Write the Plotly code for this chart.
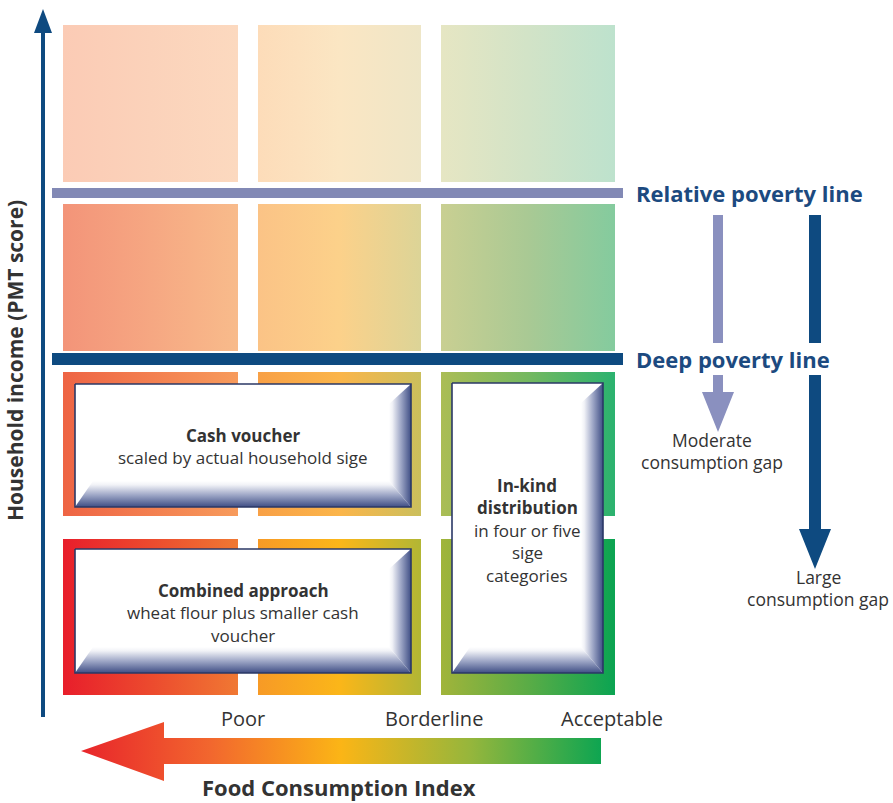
import plotly.graph_objects as go

# ---- data -------------------------------------------------------------
fci_categories = ["Poor", "Borderline", "Acceptable"]
poverty_lines = ["Relative poverty line", "Deep poverty line"]
gap_labels = [["Moderate", "consumption gap"], ["Large", "consumption gap"]]
intervention_titles = [["Cash voucher"], ["Combined approach"], ["In-kind", "distribution"]]
intervention_details = [
    ["scaled by actual household sige"],
    ["wheat flour plus smaller cash", "voucher"],
    ["in four or five", "sige", "categories"],
]
y_title = "Household income (PMT score)"
x_title = "Food Consumption Index"

# ---- style / geometry (pixels of the 893x803 canvas) -----------------
col_edges = [(63, 238), (258, 421), (441, 615)]
row_edges = [(25, 182), (204, 351), (372, 516), (539, 695)]
line_y = [193, 359]
line_w = [10, 12]
line_col = ["#8289b5", "#0e4a80"]
cell_colors = [
    [["#fbcbb5", "#fbd2ba", "#fcd9bf"], ["#fddcb9", "#fbe6c3", "#eee6c7"], ["#e6e6c3", "#d2e3c7", "#bde2cd"]],
    [["#f39479", "#f6a782", "#f8bb8b"], ["#fbc386", "#fcd18a", "#dcd497"], ["#c9cf92", "#a9c994", "#84cb9e"]],
    [["#ee6444", "#f37f50", "#f79b5c"], ["#f8a046", "#fbb54a", "#cbbf5c"], ["#abbd55", "#74b860", "#2bb26f"]],
    [["#e81e2b", "#ec4a2e", "#f07833"], ["#f79a26", "#fbb619", "#b2b634"], ["#a1b43a", "#5aac46", "#0ba452"]],
]
boxes = [(75, 384, 411, 507), (75, 549, 411, 673), (452, 383, 603, 673)]
NAVY = "#1c4a80"
TXT = "#333333"
FONT = "Open Sans"

fig = go.Figure()

# gradient cells
for r, (y0, y1) in enumerate(row_edges):
    for c, (x0, x1) in enumerate(col_edges):
        cl = cell_colors[r][c]
        fig.add_trace(go.Scatter(
            x=[x0, x1, x1, x0, x0], y=[y0, y0, y1, y1, y0],
            mode="lines", fill="toself", line=dict(width=0),
            fillgradient=dict(type="horizontal", start=x0, stop=x1,
                              colorscale=[[0, cl[0]], [0.5, cl[1]], [1, cl[2]]]),
            hoverinfo="skip", showlegend=False))

# bevelled white boxes
bev_scale = [[0, "#ffffff"], [0.15, "#f1f2f7"], [0.55, "#9ca5c5"], [1, "#3f4e85"]]
BW = 22   # right bevel width
BH = 26   # bottom bevel height
for (x0, y0, x1, y1) in boxes:
    fig.add_trace(go.Scatter(
        x=[x0, x1, x1, x0, x0], y=[y0, y0, y1, y1, y0],
        mode="lines", fill="toself", fillcolor="white",
        line=dict(width=0), hoverinfo="skip", showlegend=False))
    # bottom bevel
    fig.add_trace(go.Scatter(
        x=[x0, x1, x1 - BW, x0 + 18, x0], y=[y1, y1, y1 - BH, y1 - BH, y1],
        mode="lines", fill="toself", line=dict(width=0),
        fillgradient=dict(type="vertical", start=y1 - BH, stop=y1, colorscale=bev_scale),
        hoverinfo="skip", showlegend=False))
    # right bevel
    fig.add_trace(go.Scatter(
        x=[x1, x1, x1 - BW, x1 - BW, x1], y=[y0, y1, y1 - BH, y0 + 20, y0],
        mode="lines", fill="toself", line=dict(width=0),
        fillgradient=dict(type="horizontal", start=x1 - BW, stop=x1, colorscale=bev_scale),
        hoverinfo="skip", showlegend=False))
    # border
    fig.add_trace(go.Scatter(
        x=[x0, x1, x1, x0, x0], y=[y0, y0, y1, y1, y0],
        mode="lines", line=dict(width=1.6, color="#2b3866"),
        hoverinfo="skip", showlegend=False))

# big Food Consumption Index arrow
fig.add_trace(go.Scatter(
    x=[81, 164, 164, 601, 601, 164, 164, 81],
    y=[751, 722, 738, 738, 764, 764, 781, 751],
    mode="lines", fill="toself", line=dict(width=0),
    fillgradient=dict(type="horizontal", start=81, stop=601, colorscale=[
        [0, "#e8252b"], [0.25, "#f2672e"], [0.5, "#fbb516"],
        [0.75, "#95b63c"], [1, "#0ea551"]]),
    hoverinfo="skip", showlegend=False))

shapes = []
# poverty lines
for yv, w, col in zip(line_y, line_w, line_col):
    shapes.append(dict(type="rect", x0=52, x1=623, y0=yv - w / 2, y1=yv + w / 2,
                       fillcolor=col, line=dict(width=0)))
# y axis arrow
shapes.append(dict(type="rect", x0=41, x1=45, y0=30, y1=717,
                   fillcolor="#0e4a80", line=dict(width=0)))
shapes.append(dict(type="path", path="M 34 33 L 43 9 L 52 33 Z",
                   fillcolor="#0e4a80", line=dict(width=0)))
# gap arrows
gap_x = [718, 815]
gap_w = [10, 12]
gap_tip = [432, 569]
gap_col = ["#8a90bf", "#0e4a80"]
for gx, gw, tip, col in zip(gap_x, gap_w, gap_tip, gap_col):
    shapes.append(dict(type="rect", x0=gx - gw / 2, x1=gx + gw / 2, y0=215, y1=343,
                       fillcolor=col, line=dict(width=0)))
    shapes.append(dict(type="rect", x0=gx - gw / 2, x1=gx + gw / 2, y0=375, y1=tip - 38,
                       fillcolor=col, line=dict(width=0)))
    shapes.append(dict(type="path",
                       path=f"M {gx-16} {tip-40} L {gx+16} {tip-40} L {gx} {tip} Z",
                       fillcolor=col, line=dict(width=0)))

ann = []
# poverty line labels
for name, yv in zip(poverty_lines, line_y):
    ann.append(dict(x=634, y=yv, text=f"<b>{name}</b>", xanchor="left", yanchor="middle",
                    font=dict(family=FONT, size=22, color=NAVY)))
# gap labels
for lines, gx, y0 in zip(gap_labels, [712, 818], [440, 577]):
    for i, t in enumerate(lines):
        ann.append(dict(x=gx, y=y0 + i * 22, text=t, xanchor="center", yanchor="middle",
                        font=dict(family=FONT, size=17.5, color=TXT)))
# intervention texts
text_pos = [(243, 435), (243, 590), (527, 485)]
for (cx, cy), titles, details in zip(text_pos, intervention_titles, intervention_details):
    lines = [f"<b>{t}</b>" for t in titles] + details
    for i, t in enumerate(lines):
        ann.append(dict(x=cx, y=cy + i * 22.5, text=t, xanchor="center", yanchor="middle",
                        font=dict(family=FONT, size=17, color=TXT)))
# FCI category labels
for name, xc in zip(fci_categories, [243, 434, 612]):
    ann.append(dict(x=xc, y=718, text=name, xanchor="center", yanchor="middle",
                    font=dict(family=FONT, size=20, color=TXT)))
ann.append(dict(x=339, y=787, text=f"<b>{x_title}</b>", xanchor="center", yanchor="middle",
                font=dict(family=FONT, size=22, color=TXT)))
ann.append(dict(x=15, y=361, text=f"<b>{y_title}</b>", textangle=-90,
                xanchor="center", yanchor="middle",
                font=dict(family=FONT, size=21, color=TXT)))
for a in ann:
    a.update(xref="x", yref="y", showarrow=False)

fig.update_layout(
    width=893, height=803,
    margin=dict(l=0, r=0, t=0, b=0),
    paper_bgcolor="white", plot_bgcolor="white",
    xaxis=dict(range=[0, 893], visible=False, fixedrange=True),
    yaxis=dict(range=[803, 0], visible=False, fixedrange=True),
    shapes=shapes, annotations=ann, showlegend=False,
)

fig.write_html("out.html", config={"displayModeBar": False},
               post_script="document.body.style.margin='0';")
